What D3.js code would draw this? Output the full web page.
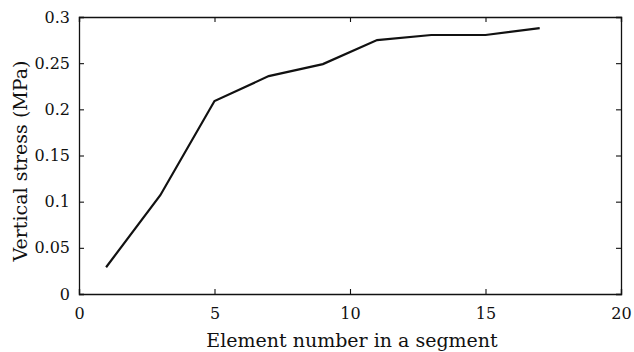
<!DOCTYPE html>
<html>
<head>
<meta charset="utf-8">
<script src="https://cdn.jsdelivr.net/npm/d3@7"></script>
<style>
body { margin: 0; background: #fff; }
svg text { font-family: "DejaVu Serif", "Liberation Serif", serif; fill: #111; }
</style>
</head>
<body>
<svg></svg>
<script>
var elementNumber = [1, 3, 5, 7, 9, 11, 13, 15, 17];
var verticalStress = [0.029, 0.107, 0.209, 0.236, 0.249, 0.275, 0.2805, 0.2805, 0.288];
var xTicks = [0, 5, 10, 15, 20];
var yTicks = [0, 0.05, 0.1, 0.15, 0.2, 0.25, 0.3];

var width = 634, height = 352;
var margin = {left: 79, right: 13, top: 17, bottom: 58};

var svg = d3.select("svg").attr("width", width).attr("height", height);

var x = d3.scaleLinear().domain([0, 20]).range([margin.left, width - margin.right]);
var y = d3.scaleLinear().domain([0, 0.3]).range([height - margin.bottom, margin.top]);

// bottom / left axes with labels, ticks inward
svg.append("g")
    .attr("transform", "translate(0," + y(0) + ")")
    .call(d3.axisBottom(x).tickValues(xTicks).tickSize(-5).tickPadding(14).tickFormat(d3.format("d")));
svg.append("g")
    .attr("transform", "translate(" + x(0) + ",0)")
    .call(d3.axisLeft(y).tickValues(yTicks).tickSize(-5).tickPadding(9).tickFormat(function(d){ return String(+d.toFixed(2)); }));

// top / right mirror ticks
svg.append("g")
    .attr("transform", "translate(0," + y(0.3) + ")")
    .call(d3.axisTop(x).tickValues(xTicks).tickSize(-5).tickFormat(""));
svg.append("g")
    .attr("transform", "translate(" + x(20) + ",0)")
    .call(d3.axisRight(y).tickValues(yTicks).tickSize(-5).tickFormat(""));

svg.selectAll(".domain").attr("stroke", "#111").attr("stroke-width", 1.3);
svg.selectAll(".tick line").attr("stroke", "#111").attr("stroke-width", 1.1);
svg.selectAll(".tick text").attr("font-size", 16).attr("fill", "#111");

var line = d3.line()
    .x(function(d, i){ return x(elementNumber[i]); })
    .y(function(d){ return y(d); });

svg.append("path")
    .datum(verticalStress)
    .attr("d", line)
    .attr("fill", "none")
    .attr("stroke", "#111")
    .attr("stroke-width", 2.2);

svg.append("text")
    .attr("x", 352)
    .attr("y", 347)
    .attr("text-anchor", "middle")
    .attr("font-size", 19)
    .text("Element number in a segment");

svg.append("text")
    .attr("transform", "translate(27,161) rotate(-90)")
    .attr("text-anchor", "middle")
    .attr("font-size", 19)
    .text("Vertical stress (MPa)");
</script>
</body>
</html>
